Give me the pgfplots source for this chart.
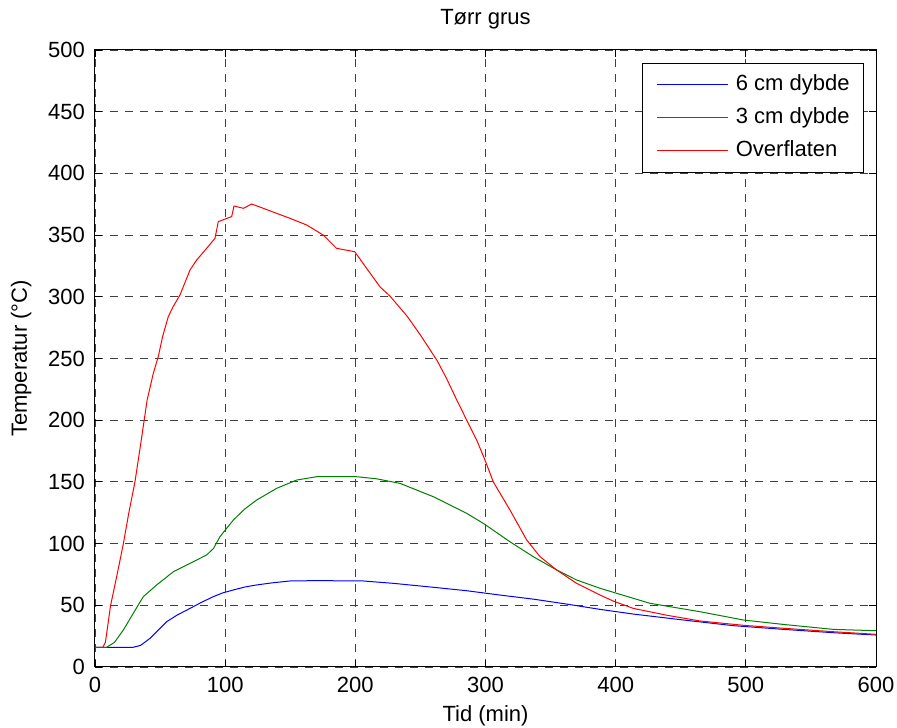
\documentclass[border=0pt]{standalone}
\usepackage{pgfplots}
\pgfplotsset{compat=1.18}
\usepackage{fontspec}
\setmainfont{Liberation Sans}
\begin{document}
\fontsize{22}{26}\selectfont
\begin{tikzpicture}
\begin{axis}[
  scale only axis, width=781pt, height=617pt,
  xmin=0, xmax=600, ymin=0, ymax=500,
  xtick={0,100,...,600}, ytick={0,50,...,500},
  grid=major,
  major grid style={black!75, line width=0.8pt, dash pattern=on 8pt off 7pt},
  tick align=inside, major tick length=7pt,
  tick style={black, line width=0.8pt},
  axis line style={black, line width=1pt},
  /pgf/number format/assume math mode=true,
  /pgf/number format/1000 sep={},
  tick label style={font=\fontsize{22}{26}\selectfont},
  xticklabel style={anchor=base, yshift=-26pt, inner sep=0pt},
  yticklabel style={anchor=east, inner sep=0pt, xshift=-10pt},
  title={Tørr grus},
  title style={at={(axis description cs:0.5,1.0324)}, anchor=base, font=\fontsize{22}{26}\selectfont},
  xlabel={Tid (min)},
  xlabel style={at={(axis description cs:0.5,-0.0891)}, anchor=base, font=\fontsize{22}{26}\selectfont},
  ylabel={Temperatur (°C)},
  ylabel style={at={(axis description cs:-0.0871,0.5)}, anchor=base, font=\fontsize{22}{26}\selectfont},
  legend style={at={(axis description cs:0.9846,0.9789)}, anchor=north east,
    draw=black, line width=0.8pt, fill=white,
    font=\fontsize{22}{26}\selectfont,
    inner xsep=14pt, inner ysep=11pt,
    nodes={inner sep=0pt, text height=16pt, text depth=5pt},
    /tikz/row sep=12pt, /tikz/column sep=7pt},
  legend cell align=left,
  legend image code/.code={\draw[#1] (0pt,0pt) -- (71pt,0pt);},
]
\addplot[color={rgb,255:red,0;green,0;blue,255}, line width=1pt] coordinates {
(0,16) (29.4,16) (35,17.5) (42.2,23.2) (55,36.7) (63,42) (73,47.5) (82,52.5) (90.9,57) (98,60) (106.2,62.4) (115,64.8) (124.2,66.5) (137,68.3) (149.8,69.7) (170,70) (206.2,69.7) (229.2,67.8) (259.9,64.6) (285.6,61.8) (311.1,58.3) (336.7,55) (362.3,51) (388,46.7) (413.5,42.9) (451.9,38.1) (490.3,33.5) (528.8,30.5) (567,27.8) (600,25.9)
};
\addlegendentry{6 cm dybde}
\addplot[color={rgb,255:red,0;green,128;blue,0}, line width=1pt] coordinates {
(0,16) (9,16) (15,20) (21.8,30) (29.4,43.5) (37.1,57) (47.4,66.5) (60.2,77.2) (73,84) (85.8,90.8) (91,96) (96,105.6) (106.2,119) (115,128) (124.2,135.3) (139.6,144.8) (154.9,151.5) (170.3,154.2) (201,154.2) (216.4,152.5) (234.3,148.8) (259.9,138) (285.6,124.5) (298.3,116.4) (318.8,101.5) (336.7,89.4) (354.7,78.6) (370,70.5) (388,63.8) (400.8,59.7) (426.4,51.6) (464.8,44.8) (498,38.1) (528.8,34.5) (567,30.5) (600,29.4)
};
\addlegendentry{3 cm dybde}
\addplot[color={rgb,255:red,255;green,0;blue,0}, line width=1pt] coordinates {
(0,16) (6,16) (8,20) (12,50) (17,75) (21.8,100) (26,125) (30.7,150) (35,180) (40,216) (44.8,238) (48.6,251.5) (52,268) (56.3,283.9) (60,292) (65.3,301.5) (73,321.7) (78.1,329.8) (85.8,339.3) (92.2,347.4) (94.7,360.9) (100,363) (105,365) (106.8,373.6) (114,371.7) (120.4,375.2) (129.3,371.7) (139.6,367.6) (149.8,363.6) (162.6,358.2) (175.4,350) (185.6,339.3) (199.6,336.5) (208.7,323) (219,308) (226.6,300.6) (240,284) (250,269) (263,248) (270,234) (277.9,216.4) (285.6,200) (293.2,184) (299.6,167.7) (306,150) (318.8,127.2) (331.6,103) (341.9,89.4) (354.7,78.6) (370,67.8) (388,58.3) (398,53.5) (413.5,47.5) (439,42) (464.8,37.3) (498,33.8) (528.8,31.4) (567,28.6) (600,26.5)
};
\addlegendentry{Overflaten}
\coordinate (sw) at (rel axis cs:0,0);
\coordinate (ne) at (rel axis cs:1,1);
\end{axis}
\pgfresetboundingbox
\path[use as bounding box] (sw) ++(-95pt,-61pt) rectangle ([shift={(21pt,50pt)}]ne);
\end{tikzpicture}
\end{document}
